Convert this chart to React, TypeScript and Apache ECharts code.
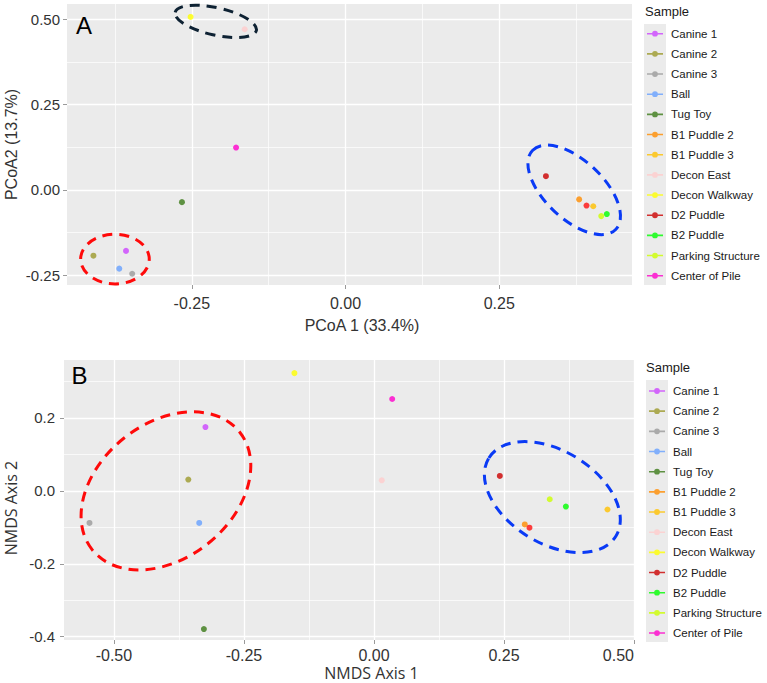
import React, { useEffect, useRef } from 'react';
import * as echarts from 'echarts';

// Sample names (legend order) and their ordination scores
const samples = [
  'Canine 1', 'Canine 2', 'Canine 3', 'Ball', 'Tug Toy', 'B1 Puddle 2', 'B1 Puddle 3',
  'Decon East', 'Decon Walkway', 'D2 Puddle', 'B2 Puddle', 'Parking Structure', 'Center of Pile',
];

const pcoa1 = [-0.357, -0.41, -0.347, -0.368, -0.266, 0.38, 0.403, -0.164, -0.252, 0.326, 0.425, 0.416, -0.178];
const pcoa2 = [-0.179, -0.193, -0.246, -0.231, -0.036, -0.028, -0.048, 0.471, 0.507, 0.04, -0.071, -0.077, 0.124];

const nmds1 = [-0.324, -0.357, -0.547, -0.336, -0.327, 0.29, 0.449, 0.015, -0.153, 0.242, 0.369, 0.338, 0.035];
const nmds2 = [0.175, 0.031, -0.088, -0.088, -0.379, -0.092, -0.051, 0.029, 0.323, 0.041, -0.043, -0.023, 0.252];

// Second D2 Puddle replicate (drawn in a brighter red)
const d2ReplicatePcoa = [0.392, -0.046];
const d2ReplicateNmds = [0.299, -0.101];

// Axis ranges and tick values
const pcoaXRange = [-0.453, 0.466];
const pcoaYRange = [-0.279, 0.545];
const nmdsXRange = [-0.596, 0.5];
const nmdsYRange = [-0.409, 0.359];

const pcoaXMajor = [-0.25, 0, 0.25];
const pcoaXMinor = [-0.375, -0.125, 0.125, 0.375];
const pcoaYMajor = [-0.25, 0, 0.25, 0.5];
const pcoaYMinor = [-0.125, 0.125, 0.375];
const nmdsXMajor = [-0.5, -0.25, 0, 0.25, 0.5];
const nmdsXMinor = [-0.375, -0.125, 0.125, 0.375];
const nmdsYMajor = [-0.4, -0.2, 0, 0.2];
const nmdsYMinor = [-0.3, -0.1, 0.1, 0.3];

// Cluster outlines: centre in data units
const pcoaClusterCentres = [[-0.211, 0.494], [-0.375, -0.203], [0.372, 0.0]];
const nmdsClusterCentres = [[-0.4, 0.0], [0.343, -0.017]];

// Styling
const palette = [
  '#CC44FF', '#9C9A2C', '#9A9A9A', '#66A0FF', '#3B7A18', '#FF8C00', '#FFC000',
  '#FFCCCC', '#FFFF00', '#CC0000', '#00FF00', '#CCFF00', '#FF00CC',
];
const d2ReplicateColor = '#FF1010';

const pcoaOutlines = [
  { rx: 41.6, ry: 13.7, rotation: -0.22, color: '#0E2233' },
  { rx: 34.3, ry: 24.8, rotation: 0, color: '#FF0A0A' },
  { rx: 57.4, ry: 29.2, rotation: -0.757, color: '#0A3AF5' },
];
const nmdsOutlines = [
  { rx: 94.3, ry: 67.4, rotation: 0.675, color: '#FF0A0A' },
  { rx: 74.6, ry: 46.3, rotation: -0.552, color: '#0A3AF5' },
];

const FONT = '"Liberation Sans", Arial, sans-serif';
const ALT_FONT = '"Open Sans", "Liberation Sans", sans-serif';
const PANEL_BG = '#EBEBEB';
// Legend key: short line with a dot, inside a 22x20 box
const LEGEND_ICON =
  'path://M0,10L0.01,10Z M22,10L21.99,10Z M11,0L11.01,0Z M11,20L11.01,20Z M3,9.2H19V10.8H3Z M11,7.1A2.9,2.9 0 1 1 11,12.9A2.9,2.9 0 1 1 11,7.1Z';

function majorAxis(opts: any) {
  const { gridIndex, range, ticks, digits, labelSize, margin, name, nameGap, nameStyle, isX, alignMax } = opts;
  return {
    type: 'value',
    gridIndex,
    min: range[0],
    max: range[1],
    position: isX ? 'bottom' : 'left',
    name,
    nameLocation: 'middle',
    nameGap,
    nameMoveOverlap: false,
    nameTextStyle: { color: '#333333', fontSize: 16, lineHeight: 16, fontFamily: FONT, ...nameStyle },
    axisLine: { show: false, onZero: false },
    axisTick: { show: true, length: 4, lineStyle: { color: '#9a9a9a', width: 1 }, customValues: ticks },
    axisLabel: {
      show: true,
      customValues: ticks,
      margin,
      fontSize: labelSize,
      color: '#333333',
      fontFamily: FONT,
      formatter: (v: number) => v.toFixed(digits),
      ...(alignMax ? { alignMaxLabel: 'right' } : {}),
    },
    splitLine: { show: true, customValues: ticks, lineStyle: { color: '#FFFFFF', width: 1.3 } },
  };
}

function minorAxis(gridIndex: number, range: number[], ticks: number[], isX: boolean) {
  return {
    type: 'value',
    gridIndex,
    min: range[0],
    max: range[1],
    position: isX ? 'top' : 'right',
    axisLine: { show: false, onZero: false },
    axisTick: { show: false, customValues: ticks },
    axisLabel: { show: false, customValues: ticks },
    splitLine: { show: true, customValues: ticks, lineStyle: { color: '#FFFFFF', width: 0.7 } },
  };
}

function outlineSeries(name: string, axisIndex: number, centres: number[][], outlines: any[]) {
  return {
    type: 'custom',
    name,
    xAxisIndex: axisIndex,
    yAxisIndex: axisIndex,
    silent: true,
    z: 3,
    data: centres,
    renderItem: (params: any, api: any) => {
      const o = outlines[params.dataIndex];
      const p = api.coord([api.value(0), api.value(1)]);
      return {
        type: 'ellipse',
        x: p[0],
        y: p[1],
        rotation: o.rotation,
        shape: { cx: 0, cy: 0, rx: o.rx, ry: o.ry },
        style: { fill: 'none', stroke: o.color, lineWidth: 3, lineDash: [10, 7] },
      };
    },
  };
}

function pointSeries(axisIndex: number, xs: number[], ys: number[], replicate: number[]) {
  const list: any[] = samples.map((name, i) => ({
    type: 'scatter',
    name,
    xAxisIndex: axisIndex,
    yAxisIndex: axisIndex,
    symbol: 'circle',
    symbolSize: 6,
    z: 4,
    itemStyle: { color: palette[i], borderWidth: 0 },
    data: [[xs[i], ys[i]]],
  }));
  list.push({
    type: 'scatter',
    name: 'D2 Puddle',
    xAxisIndex: axisIndex,
    yAxisIndex: axisIndex,
    symbol: 'circle',
    symbolSize: 6,
    z: 4,
    itemStyle: { color: d2ReplicateColor, borderWidth: 0 },
    data: [replicate],
  });
  return list;
}

function legendBlock(left: number, top: number) {
  return {
    orient: 'vertical',
    left,
    top,
    padding: 0,
    itemWidth: 22,
    itemHeight: 20,
    itemGap: 0.17,
    icon: LEGEND_ICON,
    selectedMode: false,
    z: 10,
    itemStyle: { borderWidth: 0 },
    textStyle: { fontSize: 11.5, color: '#1a1a1a', fontFamily: FONT },
    data: samples.map((name) => ({ name })),
  };
}

export default function App() {
  const ref = useRef<HTMLDivElement>(null);

  useEffect(() => {
    if (!ref.current) return;
    const chart = echarts.init(ref.current, undefined, { renderer: 'svg' });

    const option: any = {
      animation: false,
      textStyle: { fontFamily: FONT },
      grid: [
        {
          left: 67, top: 4, width: 565, height: 281, show: true, backgroundColor: PANEL_BG, borderWidth: 0,
          containLabel: false, outerBoundsMode: 'none',
        },
        {
          left: 64, top: 360, width: 570, height: 280, show: true, backgroundColor: PANEL_BG, borderWidth: 0,
          containLabel: false, outerBoundsMode: 'none',
        },
      ],
      xAxis: [
        majorAxis({
          gridIndex: 0, range: pcoaXRange, ticks: pcoaXMajor, digits: 2, labelSize: 16, margin: 10,
          name: 'PCoA 1 (33.4%)', nameGap: 32, nameStyle: { padding: [0, 0, 0, 25] }, isX: true,
        }),
        minorAxis(0, pcoaXRange, pcoaXMinor, true),
        majorAxis({
          gridIndex: 1, range: nmdsXRange, ticks: nmdsXMajor, digits: 2, labelSize: 16, margin: 7,
          name: 'NMDS Axis 1', nameGap: 25, nameStyle: { padding: [0, 0, 0, 45], fontFamily: ALT_FONT }, isX: true,
          alignMax: true,
        }),
        minorAxis(1, nmdsXRange, nmdsXMinor, true),
      ],
      yAxis: [
        majorAxis({
          gridIndex: 0, range: pcoaYRange, ticks: pcoaYMajor, digits: 2, labelSize: 15, margin: 7,
          name: 'PCoA2 (13.7%)', nameGap: 48, nameStyle: {}, isX: false,
        }),
        minorAxis(0, pcoaYRange, pcoaYMinor, false),
        majorAxis({
          gridIndex: 1, range: nmdsYRange, ticks: nmdsYMajor, digits: 1, labelSize: 15, margin: 9,
          name: 'NMDS Axis 2', nameGap: 45.5, nameStyle: { padding: [0, 16, 0, 0], fontFamily: ALT_FONT }, isX: false,
        }),
        minorAxis(1, nmdsYRange, nmdsYMinor, false),
      ],
      legend: [legendBlock(644, 23.7), legendBlock(646, 381)],
      graphic: [
        { type: 'rect', z: 1, silent: true, shape: { x: 644, y: 24, width: 22, height: 261 }, style: { fill: PANEL_BG } },
        { type: 'rect', z: 1, silent: true, shape: { x: 646, y: 380, width: 22, height: 262 }, style: { fill: PANEL_BG } },
        { type: 'text', z: 20, x: 645, y: 5, style: { text: 'Sample', fontSize: 13, fill: '#1a1a1a', fontFamily: FONT } },
        { type: 'text', z: 20, x: 646, y: 361, style: { text: 'Sample', fontSize: 13, fill: '#1a1a1a', fontFamily: FONT } },
        { type: 'text', z: 20, x: 76, y: 13.5, style: { text: 'A', fontSize: 24, fill: '#000000', fontFamily: FONT } },
        { type: 'text', z: 20, x: 71.5, y: 363, style: { text: 'B', fontSize: 24, fill: '#000000', fontFamily: FONT } },
      ],
      series: [
        outlineSeries('pcoa-clusters', 0, pcoaClusterCentres, pcoaOutlines),
        ...pointSeries(0, pcoa1, pcoa2, d2ReplicatePcoa),
        outlineSeries('nmds-clusters', 2, nmdsClusterCentres, nmdsOutlines),
        ...pointSeries(2, nmds1, nmds2, d2ReplicateNmds),
      ],
    };

    chart.setOption(option);
    return () => chart.dispose();
  }, []);

  return (
    <div
      ref={ref}
      style={{ position: 'absolute', left: 0, top: 0, width: 767, height: 683, background: '#FFFFFF' }}
    />
  );
}
